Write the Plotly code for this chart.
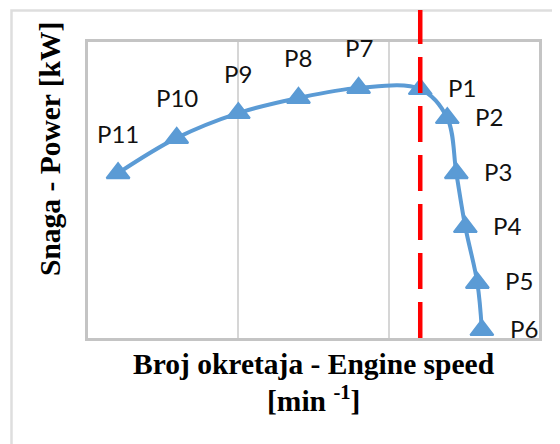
import plotly.graph_objects as go

# ---- data (arbitrary units) ----
point_labels = ["P11", "P10", "P9", "P8", "P7", "P1", "P2", "P3", "P4", "P5", "P6"]
engine_speed = [0.20, 0.59, 1.00, 1.40, 1.80, 2.21, 2.39, 2.45, 2.51, 2.59, 2.62]
power = [5.57, 6.76, 7.60, 8.11, 8.45, 8.41, 7.43, 5.57, 3.75, 1.86, 0.27]
rated_speed = 2.21          # position of the red dashed marker line
x_range = [0, 3]
y_range = [0, 10]

x_title = "Broj okretaja - Engine speed"
x_unit = "[min <sup>-1</sup>]"
y_title = "Snaga - Power [kW]"

# ---- styles ----
BLUE = "#5b9bd5"
label_side = ["top"] * 5 + ["right"] * 6

OFF = 8                      # page body margin of the html page
W, H = 560 - OFF, 444 - OFF
ML, MT = 88 - OFF, 42 - OFF
PW, PH = 451, 296
MR, MB = W - ML - PW, H - MT - PH


def px_to_paper_x(px):
    return (px - OFF - ML) / PW


def px_to_paper_y(py):
    return (MT + PH - (py - OFF)) / PH


fig = go.Figure()
fig.add_trace(go.Scatter(
    x=engine_speed, y=power, mode="lines+markers",
    line=dict(color=BLUE, width=4, shape="spline", smoothing=1.0),
    marker=dict(symbol="triangle-up", size=20, color=BLUE,
                line=dict(color=BLUE, width=2)),
    cliponaxis=False, hoverinfo="skip", showlegend=False,
))

annotations = []
for lbl, xv, yv, side in zip(point_labels, engine_speed, power, label_side):
    annotations.append(dict(
        x=xv, y=yv, xref="x", yref="y", text=lbl, showarrow=False,
        xshift=0 if side == "top" else 42,
        yshift=40 if side == "top" else 2,
        font=dict(family="Lato", size=24, color="#111111"),
    ))

title_font = dict(family="Liberation Serif", size=29.5, color="#000000")
annotations.append(dict(
    x=0.5, y=px_to_paper_y(364), xref="paper", yref="paper",
    text="<b>" + x_title + "</b>", showarrow=False,
    xanchor="center", yanchor="middle", font=title_font,
))
annotations.append(dict(
    x=0.5, y=px_to_paper_y(399), xref="paper", yref="paper",
    text="<b>" + x_unit + "</b>", showarrow=False,
    xanchor="center", yanchor="middle", font=title_font,
))
annotations.append(dict(
    x=px_to_paper_x(50), y=px_to_paper_y(149), xref="paper", yref="paper",
    text="<b>" + y_title + "</b>", showarrow=False, textangle=-90,
    xanchor="center", yanchor="middle", font=title_font,
))

shapes = [
    # outer chart border (extends beyond the window on the right/bottom)
    dict(type="rect", xref="paper", yref="paper",
         x0=px_to_paper_x(11.5), x1=px_to_paper_x(580),
         y0=px_to_paper_y(470), y1=px_to_paper_y(10.5),
         line=dict(color="#dedede", width=2.5), fillcolor="rgba(0,0,0,0)",
         layer="below"),
    # red dashed rated speed line
    dict(type="line", xref="paper", yref="paper",
         x0=(rated_speed - x_range[0]) / (x_range[1] - x_range[0]),
         x1=(rated_speed - x_range[0]) / (x_range[1] - x_range[0]),
         y0=0, y1=px_to_paper_y(10),
         line=dict(color="#ff0000", width=4.5, dash="36px,13px"),
         layer="above"),
]

fig.update_layout(
    width=W, height=H,
    margin=dict(l=ML, r=MR, t=MT, b=MB, pad=0),
    paper_bgcolor="white", plot_bgcolor="white",
    xaxis=dict(range=x_range, dtick=1, showgrid=True, gridcolor="#d6d6d6",
               gridwidth=1.5, showticklabels=False, ticks="", zeroline=False,
               showline=True, linecolor="#c4c4c4", linewidth=2.5, mirror=True,
               fixedrange=True),
    yaxis=dict(range=y_range, showgrid=False, showticklabels=False, ticks="",
               zeroline=False, showline=True, linecolor="#c4c4c4",
               linewidth=2.5, mirror=True, fixedrange=True),
    annotations=annotations,
    shapes=shapes,
)

fig.write_html("out.html", config={"displayModeBar": False})
